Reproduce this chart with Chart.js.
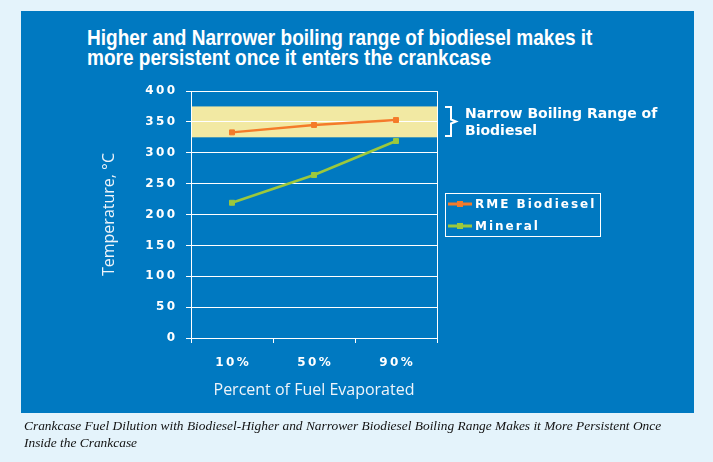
<!DOCTYPE html>
<html>
<head>
<meta charset="utf-8">
<title>Boiling range of biodiesel</title>
<script src="https://cdn.jsdelivr.net/npm/chart.js@4.4.0/dist/chart.umd.min.js"></script>
<style>
    html, body { margin: 0; padding: 0; }
    body { width: 713px; height: 462px; background: #e4f3fb; position: relative; overflow: hidden; }
    #panel { position: absolute; left: 21px; top: 11px; width: 673px; height: 402px; background: #0079c1; }
    #title { position: absolute; left: 87px; top: 28px; color: #fff; font: bold 22px 'Liberation Sans', sans-serif; line-height: 19.5px; white-space: nowrap; transform: scaleX(0.865); transform-origin: left top; }
    #caption { position: absolute; left: 24px; top: 417px; width: 680px; color: #111; font: italic 13.4px 'Liberation Serif', serif; line-height: 17px; }
    #chart { position: absolute; left: 0; top: 0; }
</style>
</head>
<body>
<div id="panel"></div>
<div id="title">Higher and Narrower boiling range of biodiesel makes it<br>more persistent once it enters the crankcase</div>
<canvas id="chart" width="713" height="462"></canvas>
<div id="caption">Crankcase Fuel Dilution with Biodiesel-Higher and Narrower Biodiesel Boiling Range Makes it More Persistent Once<br>Inside the Crankcase</div>
<script>
const categories = ['10%', '50%', '90%'];
const rmeBiodiesel = [333, 345, 353];
const mineral = [219, 264, 319];
const yMin = 0;
const yMax = 400;
const yStep = 50;
const narrowRange = [325, 375];
const seriesNames = ['RME Biodiesel', 'Mineral'];
const rangeLabel = ['Narrow Boiling Range of', 'Biodiesel'];

const spaced = s => String(s).split('').join('\u2009');

// band, bracket note, right border and boxed legend
const decorations = {
    id: 'decorations',
    beforeDraw(chart) {
        const { ctx, chartArea: a, scales: { y } } = chart;
        const top = y.getPixelForValue(narrowRange[1]);
        const bottom = y.getPixelForValue(narrowRange[0]);
        ctx.save();
        ctx.fillStyle = '#f2e9a3';
        ctx.fillRect(a.left, top, a.right - a.left, bottom - top);
        ctx.restore();
    },
    afterDraw(chart) {
        const { ctx, chartArea: a, scales: { y } } = chart;
        ctx.save();
        ctx.strokeStyle = '#fff';
        ctx.lineWidth = 1;
        ctx.beginPath();
        ctx.moveTo(a.right + 0.5, a.top);
        ctx.lineTo(a.right + 0.5, a.bottom);
        ctx.stroke();

        // bracket
        const top = Math.round(y.getPixelForValue(narrowRange[1]));
        const bottom = Math.round(y.getPixelForValue(narrowRange[0]));
        const mid = (top + bottom) / 2;
        ctx.lineWidth = 2;
        ctx.beginPath();
        ctx.moveTo(445, top + 1);
        ctx.lineTo(451, top + 1);
        ctx.lineTo(451, mid - 2);
        ctx.lineTo(456, mid);
        ctx.lineTo(451, mid + 2);
        ctx.lineTo(451, bottom - 1);
        ctx.lineTo(445, bottom - 1);
        ctx.stroke();

        ctx.fillStyle = '#fff';
        ctx.font = "bold 14px 'DejaVu Sans'";
        ctx.textBaseline = 'middle';
        ctx.fillText(rangeLabel[0], 465, 114);
        ctx.fillText(rangeLabel[1], 465, 131);

        // legend
        ctx.lineWidth = 1;
        ctx.strokeRect(445.5, 193.5, 155, 43);
        ctx.font = "bold 12px 'DejaVu Sans'";
        ctx.letterSpacing = '2px';
        chart.data.datasets.forEach((ds, i) => {
            const ly = 204 + i * 22;
            ctx.strokeStyle = ds.borderColor;
            ctx.lineWidth = 3;
            ctx.beginPath();
            ctx.moveTo(448, ly);
            ctx.lineTo(472, ly);
            ctx.stroke();
            ctx.fillStyle = ds.borderColor;
            ctx.fillRect(457, ly - 3, 6, 6);
            ctx.fillStyle = '#fff';
            ctx.fillText(ds.label, 475, ly + 1);
        });
        ctx.restore();
    }
};

const ctx = document.getElementById('chart').getContext('2d');
const chart = new Chart(ctx, {
    type: 'line',
    data: {
        labels: categories,
        datasets: [{
            label: seriesNames[0],
            data: rmeBiodiesel,
            borderColor: '#f47b2a',
            backgroundColor: '#f47b2a',
            borderWidth: 2.5,
            pointStyle: 'rect',
            pointRadius: 3.5,
            pointBorderWidth: 1,
            fill: false
        }, {
            label: seriesNames[1],
            data: mineral,
            borderColor: '#9cc83c',
            backgroundColor: '#9cc83c',
            borderWidth: 2.5,
            pointStyle: 'rect',
            pointRadius: 3.5,
            pointBorderWidth: 1,
            fill: false
        }]
    },
    options: {
        responsive: false,
        animation: false,
        layout: { padding: { left: 96, right: 276, top: 91, bottom: 58 } },
        scales: {
            x: {
                offset: true,
                afterFit: s => { s.height = 66; },
                grid: { offset: true, drawOnChartArea: false, drawTicks: true, tickLength: 5, color: '#fff' },
                border: { color: '#fff', width: 1 },
                ticks: {
                    color: '#fff',
                    padding: 13,
                    font: { family: 'DejaVu Sans', size: 12, weight: 'bold' },
                    callback: function (v) { return spaced(this.getLabelForValue(v)); }
                },
                title: {
                    display: true,
                    text: 'Percent of Fuel Evaporated',
                    color: '#eef4fa',
                    font: { family: 'Open Sans', size: 16 }
                }
            },
            y: {
                min: yMin,
                max: yMax,
                afterFit: s => { s.width = 95; },
                grid: { color: '#fff', lineWidth: 1, tickLength: 5 },
                border: { color: '#fff', width: 1 },
                ticks: {
                    stepSize: yStep,
                    color: '#fff',
                    padding: 11,
                    font: { family: 'DejaVu Sans', size: 12, weight: 'bold' },
                    callback: v => spaced(v)
                },
                title: {
                    display: true,
                    text: 'Temperature, °C',
                    color: '#eef4fa',
                    font: { family: 'Open Sans', size: 16 }
                }
            }
        },
        plugins: {
            legend: { display: false },
            tooltip: { enabled: false }
        }
    },
    plugins: [decorations]
});
</script>
</body>
</html>
